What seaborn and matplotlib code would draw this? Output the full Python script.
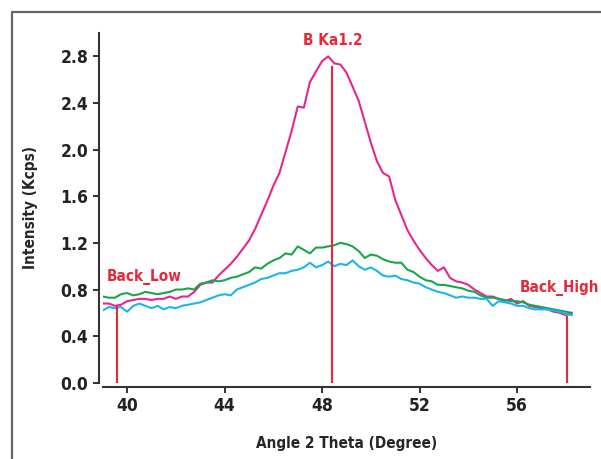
import numpy as np
import pandas as pd
import matplotlib
matplotlib.use("Agg")
import matplotlib.pyplot as plt
import seaborn as sns

# 2-theta scan, step 0.25 deg
angle = np.arange(39.0, 58.26, 0.25)

pink = [0.68, 0.68, 0.66, 0.67, 0.70, 0.71, 0.72, 0.72, 0.71, 0.72,
        0.72, 0.74, 0.72, 0.74, 0.74, 0.78, 0.84, 0.86, 0.86, 0.92,
        0.97, 1.02, 1.08, 1.15, 1.22, 1.32, 1.44, 1.56, 1.69, 1.80,
        1.98, 2.16, 2.37, 2.36, 2.58, 2.67, 2.76, 2.80, 2.74, 2.73,
        2.66, 2.54, 2.42, 2.24, 2.06, 1.90, 1.80, 1.77, 1.57, 1.44,
        1.31, 1.22, 1.14, 1.07, 1.01, 0.96, 0.99, 0.90, 0.87, 0.86,
        0.84, 0.80, 0.77, 0.74, 0.74, 0.72, 0.70, 0.72, 0.68, 0.70,
        0.66, 0.65, 0.64, 0.63, 0.61, 0.60, 0.58, 0.60]

green = [0.74, 0.73, 0.73, 0.76, 0.77, 0.75, 0.76, 0.78, 0.77, 0.76,
         0.77, 0.78, 0.80, 0.80, 0.81, 0.80, 0.85, 0.86, 0.88, 0.87,
         0.88, 0.90, 0.91, 0.93, 0.95, 0.99, 0.98, 1.02, 1.05, 1.07,
         1.11, 1.10, 1.17, 1.14, 1.11, 1.16, 1.16, 1.17, 1.18, 1.20,
         1.19, 1.17, 1.13, 1.07, 1.10, 1.09, 1.06, 1.04, 1.03, 1.03,
         0.97, 0.95, 0.91, 0.88, 0.87, 0.84, 0.84, 0.83, 0.82, 0.81,
         0.79, 0.78, 0.75, 0.73, 0.73, 0.72, 0.71, 0.70, 0.70, 0.69,
         0.67, 0.66, 0.65, 0.64, 0.63, 0.62, 0.61, 0.60]

cyan = [0.62, 0.65, 0.64, 0.65, 0.61, 0.66, 0.68, 0.66, 0.64, 0.66,
        0.63, 0.65, 0.64, 0.66, 0.67, 0.68, 0.69, 0.71, 0.73, 0.75,
        0.76, 0.75, 0.80, 0.82, 0.84, 0.86, 0.89, 0.90, 0.92, 0.94,
        0.94, 0.96, 0.97, 0.99, 1.03, 0.99, 1.01, 1.04, 1.00, 1.02,
        1.01, 1.05, 1.00, 0.97, 0.99, 0.96, 0.92, 0.91, 0.92, 0.89,
        0.88, 0.86, 0.85, 0.82, 0.80, 0.78, 0.77, 0.75, 0.73, 0.74,
        0.73, 0.73, 0.72, 0.72, 0.66, 0.70, 0.69, 0.68, 0.66, 0.66,
        0.64, 0.63, 0.63, 0.63, 0.62, 0.61, 0.59, 0.58]

# measurement positions
markers = ['Back_Low', 'B Ka1.2', 'Back_High']
marker_angle = [39.6, 48.4, 58.05]
marker_top = [0.66, 2.72, 0.57]
label_angle = [40.7, 48.45, 57.75]
label_y = [0.91, 2.94, 0.81]

df = pd.DataFrame({
    'angle': np.tile(angle, 3),
    'intensity': pink + green + cyan,
    'scan': ['pink'] * len(angle) + ['green'] * len(angle) + ['cyan'] * len(angle),
})

sns.set_style('white')
plt.rcParams['font.family'] = ['DejaVu Sans']
plt.rcParams['font.stretch'] = 'condensed'
plt.rcParams['font.weight'] = 'bold'

fig = plt.figure(figsize=(6.01, 4.59), dpi=100)
ax = fig.add_axes([0.171, 0.166, 0.811, 0.762])

palette = {'pink': '#e8258e', 'green': '#1aa54b', 'cyan': '#1bb5ee'}
sns.lineplot(data=df, x='angle', y='intensity', hue='scan', palette=palette,
             linewidth=1.5, legend=False, ax=ax, zorder=2)

red = '#e8283a'
for name, a, top, la, ly in zip(markers, marker_angle, marker_top, label_angle, label_y):
    ax.vlines(a, 0, top, color=red, linewidth=1.5, zorder=3)
    ax.text(la, ly, name, color=red, ha='center', va='center',
            fontsize=11, fontweight='bold')

ax.set_xlim(39, 59)
ax.set_ylim(0, 3.0)
ax.set_xticks([40, 44, 48, 52, 56])
ax.set_yticks([0.0, 0.4, 0.8, 1.2, 1.6, 2.0, 2.4, 2.8])
ax.set_yticklabels([f'{v:.1f}' for v in ax.get_yticks()])
ax.tick_params(axis='both', direction='out', length=4, width=1.3,
               colors='#222222', labelsize=12.5, left=True, bottom=True)

sns.despine(ax=ax, offset=3)
for side in ['left', 'bottom']:
    ax.spines[side].set_color('#333333')
    ax.spines[side].set_linewidth(1.5)

ax.set_xlabel('Angle 2 Theta (Degree)', fontsize=11, fontweight='bold', labelpad=15)
ax.set_ylabel('Intensity (Kcps)', fontsize=11, fontweight='bold', labelpad=16)

# outer frame of the figure (top and left edge)
fig.add_artist(plt.Line2D([12 / 601, 12 / 601], [0, 1 - 12 / 459], color='#666666', lw=1.6))
fig.add_artist(plt.Line2D([12 / 601, 1], [1 - 12 / 459, 1 - 12 / 459], color='#666666', lw=1.6))

fig.savefig('out.png', dpi=100)
